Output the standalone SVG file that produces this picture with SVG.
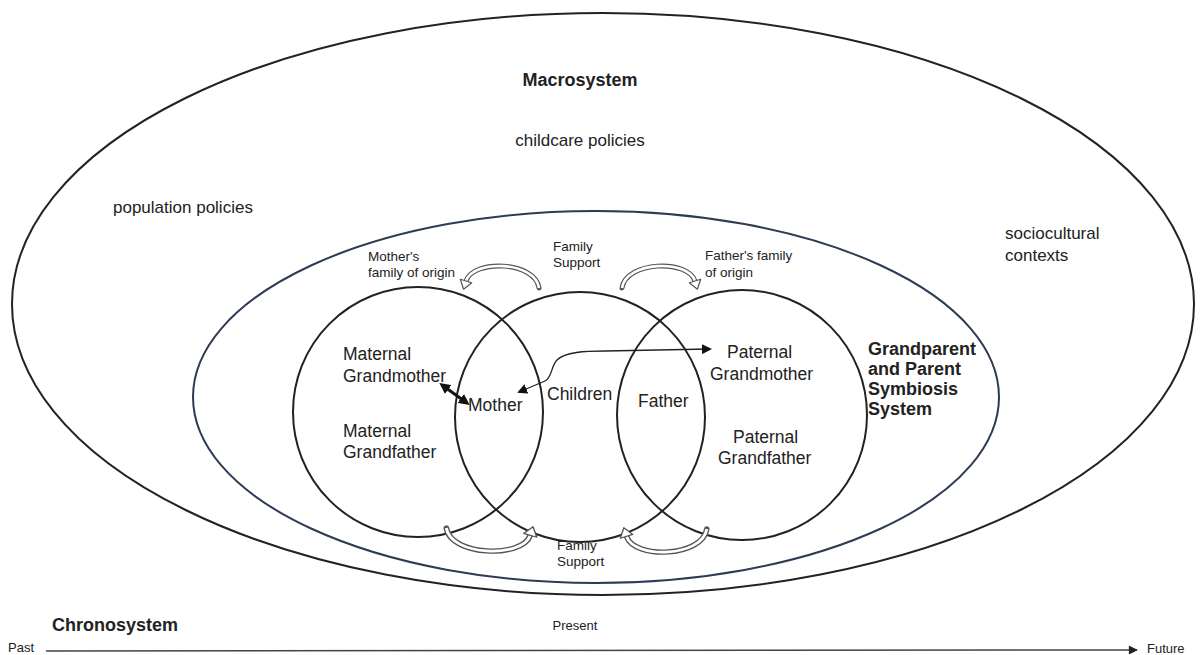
<svg xmlns="http://www.w3.org/2000/svg" xmlns:xlink="http://www.w3.org/1999/xlink" width="1201" height="655" viewBox="0 0 1201 655">
  <style>
    text { font-family: "Liberation Sans", Arial, sans-serif; fill: #222; }
    .lbl { font-size: 17.5px; }
    .ctx { font-size: 17px; }
    .small { font-size: 13.5px; }
    .bold { font-size: 18px; font-weight: bold; }
    .ring { fill: none; stroke: #222; stroke-width: 2; }
    .outer { fill: none; stroke: #222; stroke-width: 2; }
    .inner { fill: none; stroke: #2e3b55; stroke-width: 2; }
    .band-out { fill: none; stroke: #555; stroke-width: 5; stroke-linecap: round; }
    .band-in { fill: none; stroke: #fff; stroke-width: 2.6; stroke-linecap: butt; }
    .band-head { fill: #fff; stroke: #555; stroke-width: 1.2; stroke-linejoin: round; }
  </style>
  <defs>
    <marker id="headSolid" viewBox="0 0 10 10" refX="8" refY="5" markerWidth="10" markerHeight="10" markerUnits="userSpaceOnUse" orient="auto-start-reverse">
      <path d="M0,0 L10,5 L0,10 Z" fill="#111"/>
    </marker>
    <marker id="headBold" viewBox="0 0 10 10" refX="7" refY="5" markerWidth="11" markerHeight="11" markerUnits="userSpaceOnUse" orient="auto-start-reverse">
      <path d="M0,0 L10,5 L0,10 Z" fill="#111"/>
    </marker>
    <marker id="headTime" viewBox="0 0 10 10" refX="9" refY="5" markerWidth="10" markerHeight="9" markerUnits="userSpaceOnUse" orient="auto">
      <path d="M0,0 L10,5 L0,10 Z" fill="#222"/>
    </marker>
    <!-- hollow curved block arrow, chord centred on the origin, head at the left end -->
    <g id="curvedArrow">
      <path class="band-out" d="M38,0 C34,-27 -28,-29 -35,-7"/>
      <path class="band-in" d="M38,0 C34,-27 -28,-29 -35,-7"/>
      <polygon class="band-head" points="-29.3,-5.2 -37.4,1.2 -40.7,-8.8"/>
    </g>
  </defs>

  <!-- system boundaries -->
  <g id="macrosystem">
    <ellipse class="outer" cx="603" cy="304" rx="591" ry="291"/>
    <text class="bold" x="580" y="86" text-anchor="middle">Macrosystem</text>
    <text class="ctx" x="580" y="146" text-anchor="middle">childcare policies</text>
    <text class="ctx" x="113" y="213">population policies</text>
    <text class="ctx" x="1005" y="239">sociocultural</text>
    <text class="ctx" x="1005" y="261">contexts</text>
  </g>

  <g id="symbiosis-system">
    <ellipse class="inner" cx="596" cy="397" rx="403" ry="186"/>
    <text class="bold" x="868" y="355">Grandparent</text>
    <text class="bold" x="868" y="375">and Parent</text>
    <text class="bold" x="868" y="395">Symbiosis</text>
    <text class="bold" x="868" y="415">System</text>
  </g>

  <!-- family circles -->
  <g id="maternal-family">
    <circle class="ring" cx="418" cy="412" r="125"/>
    <text class="lbl" x="343" y="360">Maternal</text>
    <text class="lbl" x="343" y="382">Grandmother</text>
    <text class="lbl" x="343" y="437">Maternal</text>
    <text class="lbl" x="343" y="458">Grandfather</text>
    <text class="small" x="368" y="261">Mother's</text>
    <text class="small" x="368" y="277">family of origin</text>
  </g>

  <g id="children">
    <circle class="ring" cx="580" cy="417" r="125"/>
    <text class="lbl" x="547" y="400">Children</text>
  </g>

  <g id="paternal-family">
    <circle class="ring" cx="742" cy="415" r="125"/>
    <text class="lbl" x="727" y="358">Paternal</text>
    <text class="lbl" x="710" y="380">Grandmother</text>
    <text class="lbl" x="733" y="443">Paternal</text>
    <text class="lbl" x="718" y="464">Grandfather</text>
    <text class="small" x="705" y="260">Father's family</text>
    <text class="small" x="705" y="277">of origin</text>
  </g>

  <g id="mother">
    <text class="lbl" x="468" y="411">Mother</text>
  </g>

  <g id="father">
    <text class="lbl" x="638" y="407">Father</text>
  </g>

  <g id="family-support">
    <text class="small" x="553" y="251">Family</text>
    <text class="small" x="553" y="267">Support</text>
    <text class="small" x="557" y="550">Family</text>
    <text class="small" x="557" y="566">Support</text>
  </g>

  <!-- connectors -->
  <g id="connectors">
    <line x1="442" y1="385" x2="467" y2="403" stroke="#111" stroke-width="3" marker-start="url(#headBold)" marker-end="url(#headBold)"/>
    <path d="M519,392 L545,381 C552,378 551,366 557,360 C565,352 585,351 605,351 L710,349" fill="none" stroke="#222" stroke-width="1.3" marker-start="url(#headSolid)" marker-end="url(#headSolid)"/>
    <use xlink:href="#curvedArrow" transform="translate(501,288)"/>
    <use xlink:href="#curvedArrow" transform="translate(660,288) scale(-1,1)"/>
    <use xlink:href="#curvedArrow" transform="translate(490,528) scale(-1.15,-1.05)"/>
    <use xlink:href="#curvedArrow" transform="translate(665,529) scale(1.1,-1.05)"/>
  </g>

  <!-- time axis -->
  <g id="chronosystem">
    <text class="bold" x="52" y="631">Chronosystem</text>
    <text class="small" x="8" y="652" style="font-size:13px">Past</text>
    <text class="small" x="575" y="630" text-anchor="middle" style="font-size:13px">Present</text>
    <text class="small" x="1147" y="653" style="font-size:13px">Future</text>
    <line x1="46" y1="651" x2="1137" y2="650" stroke="#444" stroke-width="1.5" marker-end="url(#headTime)"/>
  </g>
</svg>
